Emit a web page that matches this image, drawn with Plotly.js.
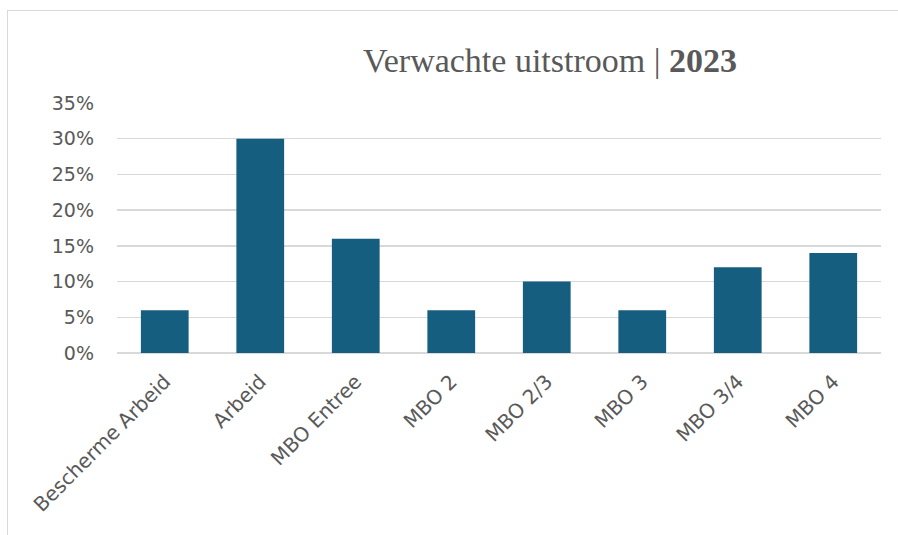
<!DOCTYPE html>
<html>
<head>
<meta charset="utf-8">
<script src="https://cdn.plot.ly/plotly-3.0.1.min.js"></script>
<style>
  html, body { margin: 0; padding: 0; background: #ffffff; }
  #wrap { position: relative; width: 898px; height: 535px; overflow: hidden; }
  #chart { position: absolute; left: 0; top: 0; width: 898px; height: 535px; }
  #frame { position: absolute; left: 7px; top: 10px; width: 900px; height: 540px;
           border-left: 1px solid #d9d9d9; border-top: 1px solid #d9d9d9; pointer-events: none; }
</style>
</head>
<body>
<div id="wrap">
  <div id="chart"></div>
  <div id="frame"></div>
</div>
<script>
const categories = ["Bescherme Arbeid", "Arbeid", "MBO Entree", "MBO 2", "MBO 2/3", "MBO 3", "MBO 3/4", "MBO 4"];
const shares = [0.06, 0.30, 0.16, 0.06, 0.10, 0.06, 0.12, 0.14];
const yTicks = [0, 0.05, 0.10, 0.15, 0.20, 0.25, 0.30, 0.35];
const chartTitle = "Verwachte uitstroom | <b>2023</b>";

const yFont = { family: "DejaVu Sans, sans-serif", size: 19, color: "#595959" };
const xFont = { family: "DejaVu Sans, sans-serif", size: 20, color: "#595959" };

Plotly.newPlot("chart", [{
  type: "bar",
  x: categories,
  y: shares,
  marker: { color: "#165e80", line: { width: 0 } },
  hoverinfo: "skip"
}], {
  width: 898,
  height: 535,
  paper_bgcolor: "#ffffff",
  plot_bgcolor: "#ffffff",
  margin: { l: 117, r: 17, t: 103, b: 182, pad: 0 },
  bargap: 0.5,
  showlegend: false,
  title: {
    text: chartTitle,
    font: { family: "Liberation Serif, Times New Roman, serif", size: 34, color: "#595959" },
    x: 550 / 898, xanchor: "center", xref: "container",
    y: 1 - 72 / 535, yanchor: "bottom", yref: "container"
  },
  xaxis: {
    type: "category",
    tickangle: -45,
    tickfont: xFont,
    showgrid: false,
    showline: false,
    ticks: "",
    ticklabelstandoff: 12,
    fixedrange: true
  },
  yaxis: {
    range: [0, 0.35],
    tickvals: yTicks,
    tickformat: ".0%",
    tickfont: yFont,
    showgrid: true,
    gridcolor: "#d9d9d9",
    gridwidth: 1.5,
    zeroline: true,
    zerolinecolor: "#d9d9d9",
    zerolinewidth: 1.5,
    showline: false,
    ticks: "",
    ticklabelstandoff: 22,
    fixedrange: true
  }
}, { displayModeBar: false, staticPlot: true });
</script>
</body>
</html>
